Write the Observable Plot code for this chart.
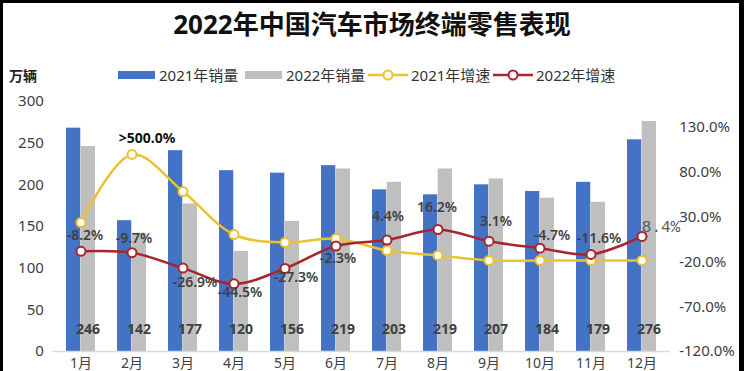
<!DOCTYPE html>
<html>
<head>
<meta charset="utf-8">
<script src="https://cdn.jsdelivr.net/npm/d3@7"></script>
<script src="https://cdn.jsdelivr.net/npm/@observablehq/plot@0.6"></script>
<style>
  html, body { margin: 0; padding: 0; background: #fff; }
  #page { position: relative; width: 744px; height: 371px; overflow: hidden; background: #fff;
          font-family: "Noto Sans", "Noto Sans CJK SC", sans-serif; color: #404040; }
  #title { position: absolute; left: 0; width: 744px; top: 4px; text-align: center; font-size: 26px;
           font-weight: bold; color: #111; letter-spacing: 0px; line-height: 40px; }
  .lg { position: absolute; font-size: 15px; line-height: 20px; top: 65px; white-space: nowrap; color: #333; }
  #unit { position: absolute; left: 9px; top: 66px; font-size: 14px; font-weight: bold; color: #222; line-height: 20px; }
  #chart { position: absolute; left: 0; top: 88px; }
  .bd { position: absolute; background: #000; }
</style>
</head>
<body>
<div id="page">
  <div id="title"></div>
  <div id="unit"></div>
  <div id="legend"></div>
  <div id="chart"></div>
  <div class="bd" style="left:0;top:0;width:3px;height:371px"></div>
  <div class="bd" style="left:0;top:0;width:744px;height:3px"></div>
  <div class="bd" style="left:739px;top:0;width:5px;height:371px"></div>
</div>
<script>
const titleText = "2022年中国汽车市场终端零售表现";
const unitText = "万辆";
const months = ["1月","2月","3月","4月","5月","6月","7月","8月","9月","10月","11月","12月"];
const sales2021 = [268, 157, 241, 217, 214, 223, 194, 188, 200, 192, 203, 254];
const sales2022 = [246, 142, 177, 120, 156, 219, 203, 219, 207, 184, 179, 276];
const growth2021 = [24.0, 100, 58.6, 10.6, 1.7, 6.1, -7.3, -12.8, -18.4, -18.4, -18.4, -18.4];
const growth2022 = [-8.2, -9.7, -26.9, -44.5, -27.3, -2.3, 4.4, 16.2, 3.1, -4.7, -11.6, 8.4];
const growth2021Note = ">500.0%";
const leftTicks = [0, 50, 100, 150, 200, 250, 300];
const rightTicks = [-120, -70, -20, 30, 80, 130];
const seriesNames = ["2021年销量", "2022年销量", "2021年增速", "2022年增速"];

// styles (not data)
const C_BLUE = "#4472C4", C_GREY = "#BFBFBF", C_YEL = "#EDC231", C_RED = "#A8262B";
const labelOffsets = [[4,-16],[2,-14],[12,14],[6,9],[11,9],[2,12],[1,-24],[-1,-22],[7,-20],[12,-13],[8,-16],[19,-10]];

document.getElementById("title").textContent = titleText;
document.getElementById("unit").textContent = unitText;

// legend
const lg = document.getElementById("legend");
const legendItems = [
  {name: seriesNames[0], kind: "rect", color: C_BLUE, left: 118},
  {name: seriesNames[1], kind: "rect", color: C_GREY, left: 245},
  {name: seriesNames[2], kind: "line", color: C_YEL, left: 368},
  {name: seriesNames[3], kind: "line", color: C_RED, left: 493}
];
for (const it of legendItems) {
  const sw = document.createElementNS("http://www.w3.org/2000/svg", "svg");
  sw.setAttribute("width", 40); sw.setAttribute("height", 20);
  sw.style.position = "absolute"; sw.style.left = it.left + "px"; sw.style.top = "65px";
  if (it.kind === "rect") {
    sw.innerHTML = `<rect x="0" y="6" width="37" height="8" fill="${it.color}"/>`;
  } else {
    sw.innerHTML = `<line x1="0" x2="40" y1="10" y2="10" stroke="${it.color}" stroke-width="2.5"/>` +
      `<circle cx="20" cy="10" r="4.5" fill="#fff" stroke="${it.color}" stroke-width="2"/>`;
  }
  lg.appendChild(sw);
  const t = document.createElement("div");
  t.className = "lg"; t.textContent = it.name;
  t.style.left = (it.left + (it.kind === "rect" ? 41 : 43)) + "px";
  lg.appendChild(t);
}

const K = 1.075; // right axis (%) -> left axis units
const toLeft = v => (v - rightTicks[0]) * K;
const fromLeft = d => d / K + rightTicks[0];

const data = months.map((m, i) => ({
  month: m, s2021: sales2021[i], s2022: sales2022[i], g2021: growth2021[i], g2022: growth2022[i], i
}));

const font = "'Noto Sans','Noto Sans CJK SC',sans-serif";
const half = (669.7 - 52.3) / 12 / 2;
const barW = 14.7;

const marks = [
  Plot.axisY(leftTicks, {anchor: "left", tickSize: 0, tickPadding: 9, fontSize: 15, fill: "#404040", tickFormat: d => String(d), label: null}),
  Plot.axisY(rightTicks.map(toLeft), {anchor: "right", tickSize: 0, tickPadding: 9, fontSize: 15, fill: "#404040",
    tickFormat: d => fromLeft(d).toFixed(1) + "%", label: null}),
  Plot.axisX({anchor: "bottom", tickSize: 0, tickPadding: 7, fontSize: 14, fill: "#404040", label: null}),
  Plot.barY(data, {x: "month", y: "s2021", fill: C_BLUE, insetLeft: half - barW, insetRight: half}),
  Plot.barY(data, {x: "month", y: "s2022", fill: C_GREY, insetLeft: half, insetRight: half - barW}),
  Plot.ruleY([0], {stroke: "#D9D9D9", strokeWidth: 1.5}),
  Plot.text(data, {x: "month", text: d => String(d.s2022), frameAnchor: "bottom", dx: 7, dy: -18,
    fontSize: 14, fontWeight: "bold", fill: "#404040"}),
  Plot.line(data, {x: "month", y: d => toLeft(d.g2021), stroke: C_YEL, strokeWidth: 2.5, curve: "catmull-rom"}),
  Plot.line(data, {x: "month", y: d => toLeft(d.g2022), stroke: C_RED, strokeWidth: 2.5, curve: "catmull-rom"}),
  Plot.dot(data, {x: "month", y: d => toLeft(d.g2021), r: 4.5, fill: "#fff", stroke: C_YEL, strokeWidth: 2}),
  Plot.dot(data, {x: "month", y: d => toLeft(d.g2022), r: 4.5, fill: "#fff", stroke: C_RED, strokeWidth: 2}),
  Plot.text([data[1]], {x: "month", y: d => toLeft(d.g2021), text: () => growth2021Note, dx: 15, dy: -16,
    fontSize: 14, fontWeight: "bold", fill: "#111"}),
  ...data.map((d, i) => Plot.text([d], {
    x: "month", y: e => toLeft(e.g2022),
    text: e => e.g2022.toFixed(1) + "%",
    dx: labelOffsets[i][0], dy: labelOffsets[i][1],
    fontSize: i === 11 ? 16 : 14,
    fontWeight: i === 11 ? "normal" : "600",
    fontFamily: i === 11 ? "'Liberation Mono', monospace" : font,
    fill: i === 11 ? "#595959" : "#404040"
  }))
];

const chart = Plot.plot({
  width: 744,
  height: 283,
  marginTop: 13,
  marginBottom: 20,
  marginLeft: 52.3,
  marginRight: 744 - 669.7,
  style: {fontFamily: font, background: "transparent", overflow: "visible"},
  x: {type: "band", domain: months, padding: 0, axis: null},
  y: {domain: [0, 300], axis: null},
  marks
});
document.getElementById("chart").appendChild(chart);
</script>
</body>
</html>
